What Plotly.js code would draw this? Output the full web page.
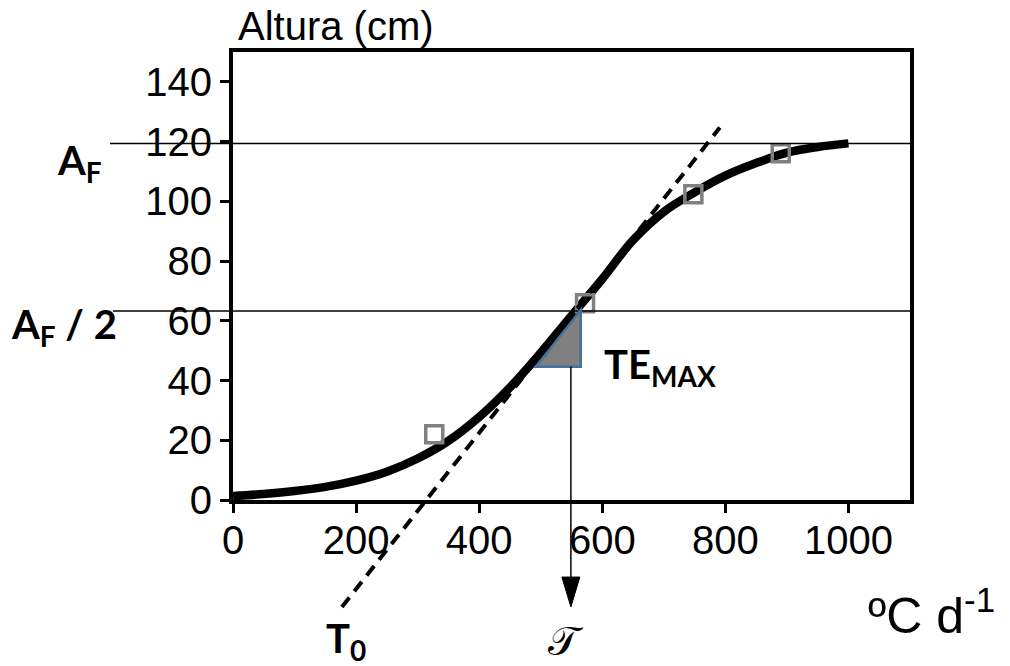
<!DOCTYPE html>
<html><head><meta charset="utf-8">
<script src="https://cdn.plot.ly/plotly-3.0.1.min.js"></script>
<style>html,body{margin:0;padding:0;background:#fff}#chart{width:1010px;height:666px}</style>
</head><body><div id="chart"></div>
<script>
// ---- data ----
const curveX = [0,50,100,150,200,250,300,350,400,450,500,550,600,650,700,750,800,850,900,950,1000];
const curveY = [1.3,2.0,3.0,4.4,6.5,9.5,13.9,19.8,27.8,37.7,49.3,61.7,74.0,87.0,96.5,103.0,108.6,112.8,116.3,118.2,119.4];
const obsX = [327,572,748,890];
const obsY = [22.0,65.9,102.4,116.1];
const tangentX = [177,791];
const tangentY = [-35.8,124.7];
const asymptoteY = 119.4;      // A_F
const halfY = 63.3;            // A_F / 2
const triX = [492,565,565];
const triY = [44.6,44.6,63.6];
const inflectionX = 549;
const arrowBaseY = -25.8;
const arrowTipY = -35.8;
const xTicks = [0,200,400,600,800,1000];
const yTicks = [0,20,40,60,80,100,120,140];
const xRange = [0,1100];
const yRange = [0,150];

const W = 1010, H = 666;
const M = {l:233, r:100, t:52, b:166};
const plotW = W - M.l - M.r, plotH = H - M.t - M.b;
const xToPaper = v => (v - xRange[0])/(xRange[1]-xRange[0]);
const yToPaper = v => (v - yRange[0])/(yRange[1]-yRange[0]);
const pxToPaperX = px => (px - M.l)/plotW;
const pxToPaperY = py => (H - M.b - py)/plotH;

const tickFont = {family:'Liberation Sans, Arial, sans-serif', size:40, color:'#000'};
const boldFont = {family:'Lato, Open Sans, sans-serif', size:40, color:'#000', weight:'bold'};

const traces = [
  {x:curveX, y:curveY, type:'scatter', mode:'lines',
   line:{color:'#000', width:8.5, shape:'spline'}, hoverinfo:'skip'},
  {x:obsX, y:obsY, type:'scatter', mode:'markers',
   marker:{symbol:'square-open', size:17, color:'#808080', line:{color:'#808080', width:3.5}}, hoverinfo:'skip'}
];

const triPath = 'M' + triX.map((x,i)=>x+','+triY[i]).join(' L') + ' Z';
const ax0 = xToPaper(inflectionX);
const headHalf = 9/plotW;

const shapes = [
  {type:'line', xref:'paper', yref:'y', x0:pxToPaperX(110), x1:1, y0:asymptoteY, y1:asymptoteY, line:{color:'#000', width:1.5}, layer:'above'},
  {type:'line', xref:'paper', yref:'y', x0:pxToPaperX(113), x1:1, y0:halfY, y1:halfY, line:{color:'#000', width:1.5}, layer:'above'},
  {type:'line', xref:'x', yref:'paper', x0:tangentX[0], x1:tangentX[1], y0:yToPaper(tangentY[0]), y1:yToPaper(tangentY[1]),
   line:{color:'#000', width:4, dash:'12px,8px'}, layer:'above'},
  {type:'path', xref:'x', yref:'y', path:triPath, fillcolor:'#808080', line:{color:'#41719C', width:2.5}, layer:'above'},
  {type:'line', xref:'paper', yref:'paper', x0:ax0, x1:ax0, y0:yToPaper(triY[0]), y1:yToPaper(arrowBaseY), line:{color:'#000', width:1.5}, layer:'above'},
  {type:'path', xref:'paper', yref:'paper',
   path:'M'+(ax0-headHalf)+','+yToPaper(arrowBaseY)+' L'+(ax0+headHalf)+','+yToPaper(arrowBaseY)+' L'+ax0+','+yToPaper(arrowTipY)+' Z',
   fillcolor:'#000', line:{color:'#000', width:1}, layer:'above'}
];

const annotations = [
  {text:'Altura (cm)', xref:'paper', yref:'paper', x:pxToPaperX(236), y:pxToPaperY(26), xanchor:'left', yanchor:'middle', showarrow:false, font:tickFont},
  {text:'A<sub>F</sub>', xref:'paper', yref:'paper', x:pxToPaperX(79), y:pxToPaperY(162), xanchor:'center', yanchor:'middle', showarrow:false, font:boldFont},
  {text:'A<sub>F</sub> / 2', xref:'paper', yref:'paper', x:pxToPaperX(64), y:pxToPaperY(326), xanchor:'center', yanchor:'middle', showarrow:false, font:boldFont},
  {text:'TE<sub>MAX</sub>', xref:'paper', yref:'paper', x:pxToPaperX(602), y:pxToPaperY(366), xanchor:'left', yanchor:'middle', showarrow:false, font:boldFont},
  {text:'T<sub>0</sub>', xref:'paper', yref:'paper', x:pxToPaperX(346), y:pxToPaperY(640), xanchor:'center', yanchor:'middle', showarrow:false, font:boldFont},
  {text:'𝒯', xref:'paper', yref:'paper', x:pxToPaperX(566), y:pxToPaperY(641), xanchor:'center', yanchor:'middle', showarrow:false,
   font:{family:'DejaVu Serif, serif', size:40, color:'#000'}},
  {text:'ºC d<sup>-1</sup>', xref:'paper', yref:'paper', x:pxToPaperX(866), y:pxToPaperY(612), xanchor:'left', yanchor:'middle', showarrow:false,
   font:{family:'Liberation Sans, Arial, sans-serif', size:50, color:'#000'}}
];

const axisCommon = {showline:true, linewidth:4, linecolor:'#000', mirror:true, ticks:'outside', ticklen:9, tickwidth:3, tickcolor:'#000',
  showgrid:false, zeroline:false, tickfont:tickFont, fixedrange:true};

const layout = {
  width:W, height:H, margin:M, showlegend:false,
  paper_bgcolor:'#fff', plot_bgcolor:'#fff',
  xaxis:Object.assign({}, axisCommon, {range:xRange, tickvals:xTicks, ticktext:xTicks.map(String), ticklabelstandoff:-7}),
  yaxis:Object.assign({}, axisCommon, {range:yRange, tickvals:yTicks, ticktext:yTicks.map(String)}),
  shapes:shapes, annotations:annotations
};

Plotly.newPlot('chart', traces, layout, {staticPlot:true, displayModeBar:false});
</script></body></html>
